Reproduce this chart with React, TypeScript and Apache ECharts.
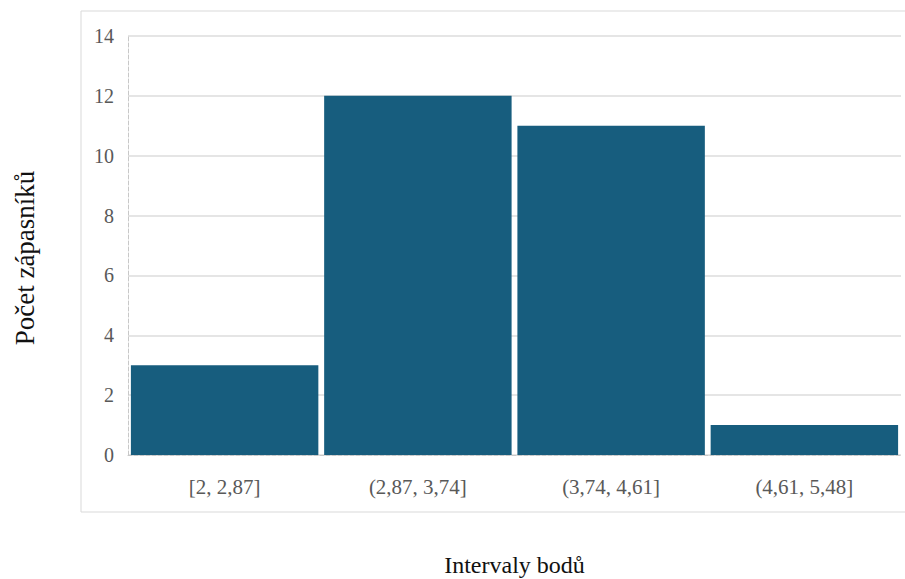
import React, { useEffect, useRef } from "react";
import * as echarts from "echarts";

// Histogram of wrestlers by point interval
const categories = ["[2, 2,87]", "(2,87, 3,74]", "(3,74, 4,61]", "(4,61, 5,48]"];
const counts = [3, 12, 11, 1];
const yTicks = [0, 2, 4, 6, 8, 10, 12, 14];
const yTitle = "Počet zápasníků";
const xTitle = "Intervaly bodů";

const FONT = '"Liberation Serif", "Times New Roman", serif';

export default function App() {
  const ref = useRef<HTMLDivElement>(null);

  useEffect(() => {
    if (!ref.current) return;
    const chart = echarts.init(ref.current, null, { renderer: "svg" });
    chart.setOption({
      animation: false,
      backgroundColor: "#ffffff",
      graphic: [
        {
          type: "rect",
          shape: { x: 81, y: 11, width: 840, height: 501 },
          style: { fill: "none", stroke: "#d9d9d9", lineWidth: 1 },
          silent: true,
          z: -10,
        },
        {
          type: "text",
          x: 25,
          y: 258,
          rotation: Math.PI / 2,
          style: {
            text: yTitle,
            font: `27px ${FONT}`,
            fill: "#111",
            align: "center",
            verticalAlign: "middle",
          },
          silent: true,
        },
      ],
      grid: { left: 128, right: 4, top: 36, bottom: 124, outerBoundsMode: "none", containLabel: false },
      xAxis: {
        type: "category",
        data: categories,
        name: xTitle,
        nameLocation: "middle",
        nameGap: 98,
        nameTextStyle: { fontFamily: FONT, fontSize: 24, color: "#111" },
        axisLine: { show: true, lineStyle: { color: "#c8c8c8", type: "dashed", width: 1 } },
        axisTick: { show: false },
        axisLabel: { fontFamily: FONT, fontSize: 21, color: "#595959", margin: 21 },
        splitLine: { show: false },
      },
      yAxis: {
        type: "value",
        min: yTicks[0],
        max: yTicks[yTicks.length - 1],
        interval: 2,
        axisLine: { show: true, lineStyle: { color: "#c8c8c8", type: "dashed", width: 1 } },
        axisTick: { show: false },
        axisLabel: { fontFamily: FONT, fontSize: 20, color: "#595959", margin: 14 },
        splitLine: { show: true, lineStyle: { color: "#dcdcdc", width: 1.5 } },
      },
      series: [
        {
          type: "bar",
          data: counts,
          barCategoryGap: "3%",
          itemStyle: { color: "#175d7e" },
        },
      ],
    });
    return () => chart.dispose();
  }, []);

  return (
    <div
      ref={ref}
      style={{ position: "fixed", left: 0, top: 0, width: 905, height: 579 }}
    />
  );
}
